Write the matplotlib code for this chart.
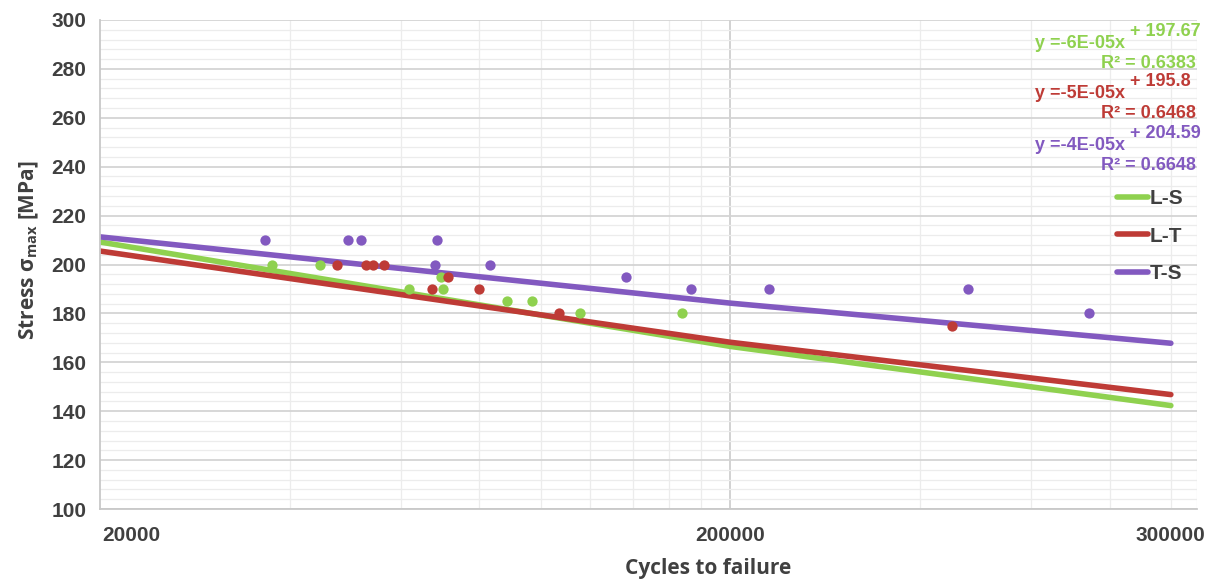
import matplotlib
matplotlib.use('Agg')
import matplotlib.pyplot as plt
from matplotlib.ticker import FixedLocator, NullFormatter, MultipleLocator

# cycles to failure / stress for each orientation
ls_cycles = [18750, 22300, 30900, 34800, 35000, 44300, 48500, 57800, 83900]
ls_stress = [200, 200, 190, 195, 190, 185, 185, 180, 180]

lt_cycles = [23800, 26400, 27100, 28200, 33600, 35700, 40000, 53500, 225000]
lt_stress = [200, 200, 200, 200, 190, 195, 190, 180, 175]

ts_cycles = [18300, 24700, 25900, 34300, 34000, 41600, 68400, 86700, 115300, 238600, 371300]
ts_stress = [210, 210, 210, 210, 200, 200, 195, 190, 190, 190, 180]

# trend lines as drawn in the figure
trend_x = [10000, 100000, 500000]
ls_trend = [209.2, 166.5, 142.3]
lt_trend = [205.5, 168.2, 146.8]
ts_trend = [211.3, 184.2, 167.8]

equations = [('y =-6E-05x', '+ 197.67', 'R² = 0.6383'),
             ('y =-5E-05x', '+ 195.8', 'R² = 0.6468'),
             ('y =-4E-05x', '+ 204.59', 'R² = 0.6648')]

tick_pos = [11200, 100000, 500000]
tick_labels = ['20000', '200000', '300000']

GREEN = '#8fd14f'
RED = '#be3b36'
PURPLE = '#8259c0'
colors = [GREEN, RED, PURPLE]
names = ['L-S', 'L-T', 'T-S']
narrow = ['Liberation Sans Narrow', 'Liberation Sans', 'DejaVu Sans']

fig = plt.figure(figsize=(12.11, 5.81), dpi=100)
ax = fig.add_axes([0.0826, 0.1239, 0.9058, 0.8417])

ax.set_xscale('log')
ax.set_xlim(10000, 550000)
ax.set_ylim(100, 300)

for xs, ys, c in zip([ls_cycles, lt_cycles, ts_cycles],
                     [ls_stress, lt_stress, ts_stress], colors):
    ax.scatter(xs, ys, s=55, color=c, zorder=3, linewidths=0)

for tr, c, n in zip([ls_trend, lt_trend, ts_trend], colors, names):
    ax.plot(trend_x, tr, color=c, lw=4, solid_capstyle='round', zorder=2, label=n)

# grid
ax.yaxis.set_major_locator(MultipleLocator(20))
ax.yaxis.set_minor_locator(MultipleLocator(4))
ax.xaxis.set_major_locator(FixedLocator(tick_pos))
ax.xaxis.set_minor_locator(FixedLocator([10000, 100000]))
ax.xaxis.set_minor_formatter(NullFormatter())
ax.set_xticklabels(tick_labels)
ax.grid(which='major', axis='y', color='#d4d4d4', lw=1.3)
ax.grid(which='minor', axis='y', color='#ececec', lw=0.9)
for m in range(2, 10):
    for dec in (10000, 100000):
        v = m * dec
        if v < 550000:
            ax.axvline(v, color='#ececec', lw=0.9, zorder=0)
ax.axvline(100000, color='#cfcfcf', lw=1.3, zorder=0)
ax.set_axisbelow(True)

for s in ['top', 'right']:
    ax.spines[s].set_visible(False)
for s in ['left', 'bottom']:
    ax.spines[s].set_color('#c8c8c8')
    ax.spines[s].set_linewidth(1.3)
ax.axvline(550000, color='#ececec', lw=0.9, zorder=0)

ax.tick_params(which='both', length=0)
ax.tick_params(axis='y', pad=10, labelcolor='#404040', labelsize=15)
ax.tick_params(axis='x', pad=12, labelcolor='#404040', labelsize=15)
for lab in ax.get_xticklabels() + ax.get_yticklabels():
    lab.set_family(narrow)
    lab.set_fontweight('bold')

fig.text(0.024, 0.57, 'Stress σ$_{\\mathregular{max}}$ [MPa]', rotation=90,
         ha='center', va='center', fontsize=15, fontweight='bold',
         color='#404040', family='Open Sans')
fig.text(0.585, 0.022, 'Cycles to failure', ha='center', va='center',
         fontsize=15, fontweight='bold', color='#404040', family='Open Sans')

# trend line equations
eq_y = [44, 93, 146]
for (eq, const, r2), c, y in zip(equations, colors, eq_y):
    fy = 1 - y / 581
    fig.text(1125 / 1211, fy, eq, ha='right', va='center', fontsize=13,
             color=c, family=narrow, fontweight='bold')
    fig.text(1130 / 1211, fy + 12 / 581, const, ha='left', va='center', fontsize=13,
             color=c, family=narrow, fontweight='bold')
    fig.text(1196 / 1211, fy - 20 / 581, r2, ha='right', va='center', fontsize=13,
             color=c, family=narrow, fontweight='bold')

leg = ax.legend(loc='upper right', bbox_to_anchor=(1.005, 0.692), frameon=False,
                handlelength=1.5, handletextpad=0.1, labelspacing=0.88,
                prop={'family': narrow, 'weight': 'bold', 'size': 15})
for t in leg.get_texts():
    t.set_color('#404040')

fig.savefig('out.png', dpi=100)
